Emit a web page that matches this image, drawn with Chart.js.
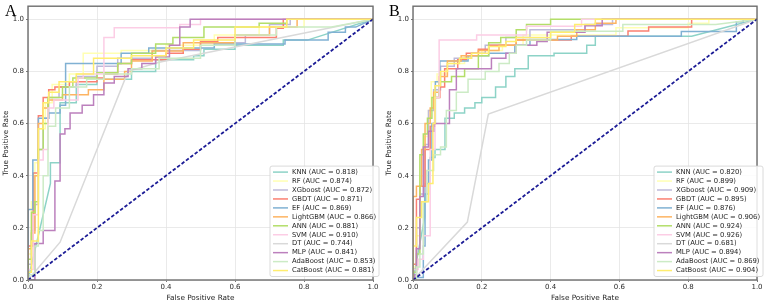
<!DOCTYPE html>
<html>
<head>
<meta charset="utf-8">
<script src="https://cdn.jsdelivr.net/npm/chart.js@4.4.1/dist/chart.umd.min.js"></script>
<style>
body { margin: 0; background: #fff; width: 767px; height: 303px; overflow: hidden; position: relative; }
.panel { position: absolute; top: 0; height: 303px; }
.tag { position: absolute; font-family: "Liberation Serif", "DejaVu Serif", serif; font-size: 16px; line-height: 16px; color: #000; }
</style>
</head>
<body>
<div class="panel" style="left:0;width:383px"><canvas id="chartA" width="383" height="303"></canvas></div>
<div class="panel" style="left:383px;width:384px"><canvas id="chartB" width="384" height="303"></canvas></div>
<div class="tag" style="left:5px;top:3px">A</div>
<div class="tag" style="left:389px;top:3px">B</div>
<script>
const models = ['KNN', 'RF', 'XGboost', 'GBDT', 'EF', 'LightGBM', 'ANN', 'SVM', 'DT', 'MLP', 'AdaBoost', 'CatBoost']
const colors = ['#8dd3c7', '#ffffb3', '#bebada', '#fb8072', '#80b1d3', '#fdb462', '#b3de69', '#fccde5', '#d9d9d9', '#bc80bd', '#ccebc5', '#ffed6f']
const aucA = ['0.818', '0.874', '0.872', '0.871', '0.869', '0.866', '0.881', '0.910', '0.744', '0.841', '0.853', '0.881']
const aucB = ['0.820', '0.899', '0.909', '0.895', '0.876', '0.906', '0.924', '0.926', '0.681', '0.894', '0.869', '0.904']
const axisTicks = [0, 0.2, 0.4, 0.6, 0.8, 1.0]

// ROC points [fpr, tpr]
const A_KNN = [[0,0],[0.065,0.37],[0.065,0.45],[0.093,0.45],[0.093,0.68],[0.14,0.68],[0.14,0.75],[0.2,0.75],[0.2,0.77],[0.3,0.77],[0.3,0.8],[0.37,0.8],[0.37,0.845],[0.48,0.845],[0.48,0.86],[0.51,0.86],[0.51,0.885],[0.6,0.885],[0.6,0.9],[0.74,0.9],[0.74,0.92],[0.81,0.92],[1,1]]
const A_RF = [[0,0],[0,0.1],[0.01,0.1],[0.01,0.3],[0.02,0.3],[0.02,0.45],[0.03,0.45],[0.03,0.58],[0.05,0.58],[0.05,0.68],[0.07,0.68],[0.07,0.75],[0.12,0.75],[0.12,0.79],[0.16,0.79],[0.16,0.87],[0.27,0.87],[0.27,0.88],[0.4,0.88],[0.4,0.9],[0.54,0.9],[0.54,0.94],[0.67,0.94],[0.67,0.97],[0.8,0.97],[0.8,1],[1,1]]
const A_XGB = [[0,0],[0,0.06],[0.01,0.06],[0.01,0.19],[0.02,0.19],[0.02,0.29],[0.03,0.29],[0.03,0.5],[0.044,0.5],[0.044,0.62],[0.06,0.62],[0.06,0.7],[0.09,0.7],[0.09,0.74],[0.14,0.74],[0.14,0.78],[0.2,0.78],[0.2,0.82],[0.26,0.82],[0.26,0.85],[0.36,0.85],[0.36,0.88],[0.5,0.88],[0.5,0.91],[0.63,0.91],[0.63,0.94],[0.7,0.94],[0.7,0.98],[0.76,0.98],[0.76,1],[1,1]]
const A_GBDT = [[0,0],[0,0.13],[0.015,0.13],[0.015,0.41],[0.03,0.41],[0.03,0.63],[0.044,0.63],[0.044,0.7],[0.06,0.7],[0.06,0.73],[0.078,0.73],[0.078,0.74],[0.12,0.74],[0.12,0.76],[0.2,0.76],[0.2,0.775],[0.22,0.775],[0.22,0.79],[0.26,0.79],[0.26,0.83],[0.3,0.83],[0.3,0.845],[0.4,0.845],[0.4,0.87],[0.45,0.87],[0.45,0.885],[0.5,0.885],[0.5,0.915],[0.55,0.915],[0.55,0.93],[0.72,0.93],[0.72,0.965],[0.74,0.965],[0.74,1],[1,1]]
const A_EF = [[0,0],[0,0.27],[0.014,0.27],[0.014,0.46],[0.03,0.46],[0.03,0.62],[0.06,0.62],[0.06,0.64],[0.093,0.64],[0.093,0.67],[0.109,0.67],[0.109,0.83],[0.27,0.83],[0.27,0.87],[0.35,0.87],[0.35,0.89],[0.54,0.89],[0.54,0.905],[0.745,0.905],[0.745,0.92],[0.87,0.92],[0.87,0.95],[0.92,0.95],[0.92,0.97],[0.95,0.97],[1,1]]
const A_LGBM = [[0,0],[0,0.12],[0.01,0.12],[0.01,0.18],[0.02,0.18],[0.02,0.4],[0.03,0.4],[0.03,0.6],[0.044,0.6],[0.044,0.66],[0.058,0.66],[0.058,0.69],[0.1,0.69],[0.1,0.71],[0.175,0.71],[0.175,0.73],[0.22,0.73],[0.22,0.77],[0.28,0.77],[0.28,0.8],[0.3,0.8],[0.3,0.84],[0.36,0.84],[0.36,0.878],[0.45,0.878],[0.45,0.91],[0.6,0.91],[0.6,0.94],[0.7,0.94],[0.7,0.97],[0.78,0.97],[0.78,1],[1,1]]
const A_ANN = [[0,0],[0,0.08],[0.01,0.08],[0.01,0.26],[0.02,0.26],[0.02,0.3],[0.03,0.3],[0.03,0.5],[0.044,0.5],[0.044,0.6],[0.058,0.6],[0.058,0.7],[0.1,0.7],[0.1,0.74],[0.13,0.74],[0.13,0.775],[0.2,0.775],[0.2,0.795],[0.26,0.795],[0.26,0.83],[0.3,0.83],[0.3,0.87],[0.37,0.87],[0.37,0.905],[0.42,0.905],[0.42,0.93],[0.51,0.93],[0.51,0.97],[0.67,0.97],[0.67,0.985],[0.75,0.985],[0.75,1],[1,1]]
const A_SVM = [[0,0],[0,0.04],[0.015,0.04],[0.015,0.25],[0.03,0.25],[0.03,0.46],[0.044,0.46],[0.044,0.5],[0.058,0.5],[0.058,0.66],[0.075,0.66],[0.075,0.69],[0.145,0.69],[0.145,0.775],[0.16,0.775],[0.16,0.79],[0.22,0.79],[0.22,0.93],[0.25,0.93],[0.25,0.967],[0.44,0.967],[0.44,0.98],[0.5,0.98],[0.5,1],[1,1]]
const A_DT = [[0,0],[0.093,0.145],[0.29,0.8],[0.38,0.835],[1,1]]
const A_MLP = [[0,0],[0.02,0],[0.02,0.14],[0.044,0.14],[0.044,0.19],[0.078,0.19],[0.078,0.38],[0.093,0.38],[0.093,0.56],[0.107,0.56],[0.107,0.58],[0.122,0.58],[0.122,0.64],[0.157,0.64],[0.157,0.67],[0.19,0.67],[0.19,0.71],[0.22,0.71],[0.22,0.755],[0.25,0.755],[0.25,0.78],[0.29,0.78],[0.29,0.81],[0.33,0.81],[0.33,0.83],[0.37,0.83],[0.37,0.855],[0.41,0.855],[0.41,0.9],[0.44,0.9],[0.44,0.97],[0.47,0.97],[0.47,1],[1,1]]
const A_Ada = [[0,0],[0,0.02],[0.02,0.02],[0.02,0.13],[0.03,0.13],[0.03,0.19],[0.044,0.19],[0.044,0.4],[0.058,0.4],[0.058,0.59],[0.08,0.59],[0.08,0.66],[0.12,0.66],[0.12,0.74],[0.17,0.74],[0.17,0.77],[0.22,0.77],[0.22,0.79],[0.3,0.79],[0.3,0.81],[0.38,0.81],[0.38,0.85],[0.5,0.85],[0.5,0.9],[0.6,0.9],[0.6,0.94],[0.72,0.94],[0.72,0.97],[0.88,0.97],[1,1]]
const A_Cat = [[0,0],[0,0.03],[0.01,0.03],[0.01,0.15],[0.03,0.15],[0.03,0.58],[0.044,0.58],[0.044,0.68],[0.06,0.68],[0.06,0.72],[0.09,0.72],[0.09,0.76],[0.14,0.76],[0.14,0.79],[0.19,0.79],[0.19,0.85],[0.3,0.85],[0.3,0.86],[0.4,0.86],[0.4,0.89],[0.48,0.89],[0.48,0.92],[0.6,0.92],[0.6,0.97],[0.75,0.97],[0.75,1],[1,1]]

// ROC points [fpr, tpr]
const B_KNN = [[0,0],[0.034,0.24],[0.034,0.37],[0.05,0.37],[0.05,0.47],[0.064,0.47],[0.064,0.5],[0.093,0.5],[0.093,0.62],[0.12,0.62],[0.12,0.64],[0.15,0.64],[0.15,0.66],[0.18,0.66],[0.18,0.68],[0.2,0.68],[0.2,0.7],[0.24,0.7],[0.24,0.74],[0.27,0.74],[0.27,0.78],[0.296,0.78],[0.296,0.81],[0.335,0.81],[0.335,0.86],[0.41,0.86],[0.41,0.87],[0.505,0.87],[0.505,0.9],[0.53,0.9],[0.53,0.935],[0.81,0.935],[1,1]]
const B_RF = [[0,0],[0,0.05],[0.01,0.05],[0.01,0.17],[0.02,0.17],[0.02,0.4],[0.035,0.4],[0.035,0.55],[0.045,0.55],[0.045,0.65],[0.053,0.65],[0.053,0.76],[0.07,0.76],[0.07,0.79],[0.1,0.79],[0.1,0.83],[0.15,0.83],[0.15,0.86],[0.2,0.86],[0.2,0.88],[0.26,0.88],[0.26,0.9],[0.32,0.9],[0.32,0.94],[0.59,0.94],[0.59,0.967],[0.8,0.967],[0.8,0.985],[0.86,0.985],[0.86,1],[1,1]]
const B_XGB = [[0,0],[0,0.04],[0.01,0.04],[0.01,0.2],[0.02,0.2],[0.02,0.33],[0.035,0.33],[0.035,0.52],[0.045,0.52],[0.045,0.65],[0.06,0.65],[0.06,0.73],[0.08,0.73],[0.08,0.82],[0.12,0.82],[0.12,0.85],[0.17,0.85],[0.17,0.87],[0.21,0.87],[0.21,0.9],[0.27,0.9],[0.27,0.93],[0.34,0.93],[0.34,0.96],[0.5,0.96],[0.5,0.98],[0.58,0.98],[0.58,1],[1,1]]
const B_GBDT = [[0,0],[0,0.06],[0.01,0.06],[0.01,0.31],[0.02,0.31],[0.02,0.36],[0.035,0.36],[0.035,0.5],[0.05,0.5],[0.05,0.59],[0.063,0.59],[0.063,0.7],[0.078,0.7],[0.078,0.74],[0.092,0.74],[0.092,0.81],[0.13,0.81],[0.13,0.845],[0.155,0.845],[0.155,0.87],[0.19,0.87],[0.19,0.885],[0.22,0.885],[0.22,0.9],[0.3,0.9],[0.3,0.92],[0.46,0.92],[0.46,0.935],[0.625,0.935],[0.625,0.955],[0.685,0.955],[0.685,0.97],[0.81,0.97],[0.81,1],[1,1]]
const B_EF = [[0,0],[0.005,0],[0.005,0.01],[0.03,0.01],[0.03,0.13],[0.035,0.13],[0.035,0.33],[0.045,0.33],[0.045,0.46],[0.055,0.46],[0.055,0.6],[0.065,0.6],[0.065,0.76],[0.078,0.76],[0.078,0.84],[0.16,0.84],[0.16,0.86],[0.22,0.86],[0.22,0.87],[0.296,0.87],[0.296,0.9],[0.34,0.9],[0.34,0.922],[0.476,0.922],[0.476,0.935],[0.78,0.935],[0.78,0.953],[0.94,0.953],[0.94,0.99],[0.96,0.99],[0.96,1],[1,1]]
const B_LGBM = [[0,0],[0,0.32],[0.01,0.32],[0.01,0.36],[0.025,0.36],[0.025,0.5],[0.035,0.5],[0.035,0.6],[0.05,0.6],[0.05,0.66],[0.06,0.66],[0.06,0.72],[0.076,0.72],[0.076,0.78],[0.1,0.78],[0.1,0.84],[0.14,0.84],[0.14,0.86],[0.19,0.86],[0.19,0.88],[0.25,0.88],[0.25,0.9],[0.3,0.9],[0.3,0.92],[0.42,0.92],[0.42,0.935],[0.476,0.935],[0.476,0.96],[0.53,0.96],[0.53,0.985],[0.59,0.985],[0.59,1],[1,1]]
const B_ANN = [[0,0],[0,0.03],[0.01,0.03],[0.01,0.1],[0.02,0.1],[0.02,0.48],[0.03,0.48],[0.03,0.56],[0.042,0.56],[0.042,0.62],[0.055,0.62],[0.055,0.7],[0.075,0.7],[0.075,0.76],[0.112,0.76],[0.112,0.78],[0.15,0.78],[0.15,0.81],[0.19,0.81],[0.19,0.86],[0.22,0.86],[0.22,0.91],[0.255,0.91],[0.255,0.93],[0.3,0.93],[0.3,0.96],[0.33,0.96],[0.33,0.98],[0.4,0.98],[0.4,1],[1,1]]
const B_SVM = [[0,0],[0,0.04],[0.015,0.04],[0.015,0.08],[0.03,0.08],[0.03,0.17],[0.05,0.17],[0.05,0.5],[0.064,0.5],[0.064,0.7],[0.076,0.7],[0.076,0.92],[0.185,0.92],[0.185,0.94],[0.33,0.94],[0.33,0.973],[0.49,0.973],[0.49,1],[1,1]]
const B_DT = [[0,0],[0.158,0.222],[0.219,0.636],[1,1]]
const B_MLP = [[0,0],[0.005,0],[0.005,0.02],[0.01,0.02],[0.01,0.12],[0.02,0.12],[0.02,0.32],[0.03,0.32],[0.03,0.51],[0.045,0.51],[0.045,0.57],[0.06,0.57],[0.06,0.6],[0.106,0.6],[0.106,0.73],[0.126,0.73],[0.126,0.81],[0.228,0.81],[0.228,0.85],[0.27,0.85],[0.27,0.87],[0.3,0.87],[0.3,0.9],[0.36,0.9],[0.36,0.915],[0.39,0.915],[0.39,0.95],[0.5,0.95],[0.5,0.975],[0.55,0.975],[0.55,1],[1,1]]
const B_Ada = [[0,0],[0.01,0],[0.01,0.05],[0.02,0.05],[0.02,0.1],[0.03,0.1],[0.03,0.3],[0.04,0.3],[0.04,0.42],[0.06,0.42],[0.06,0.48],[0.08,0.48],[0.08,0.51],[0.097,0.51],[0.097,0.65],[0.126,0.65],[0.126,0.72],[0.16,0.72],[0.16,0.77],[0.21,0.77],[0.21,0.8],[0.25,0.8],[0.25,0.83],[0.28,0.83],[0.28,0.87],[0.3,0.87],[0.3,0.9],[0.33,0.9],[0.33,0.92],[0.4,0.92],[0.4,0.954],[0.61,0.954],[0.61,0.98],[0.88,0.98],[1,1]]
const B_Cat = [[0,0],[0,0.13],[0.01,0.13],[0.01,0.24],[0.025,0.24],[0.025,0.3],[0.045,0.3],[0.045,0.37],[0.058,0.37],[0.058,0.6],[0.064,0.6],[0.064,0.745],[0.08,0.745],[0.08,0.8],[0.1,0.8],[0.1,0.83],[0.135,0.83],[0.135,0.85],[0.17,0.85],[0.17,0.87],[0.22,0.87],[0.22,0.895],[0.27,0.895],[0.27,0.915],[0.3,0.915],[0.3,0.93],[0.4,0.93],[0.4,0.95],[0.47,0.95],[0.47,0.98],[0.53,0.98],[0.53,1],[1,1]]

const rocA = [A_KNN, A_RF, A_XGB, A_GBDT, A_EF, A_LGBM, A_ANN, A_SVM, A_DT, A_MLP, A_Ada, A_Cat]
const rocB = [B_KNN, B_RF, B_XGB, B_GBDT, B_EF, B_LGBM, B_ANN, B_SVM, B_DT, B_MLP, B_Ada, B_Cat]
const chance = [[0,0],[1,1]]

const FONT = "'DejaVu Sans', 'Liberation Sans', sans-serif"

// frame round the axes plus a legend box in the lower right, like matplotlib
const framePlugin = {
    id: 'frame',
    afterDatasetsDraw(chart) {
        const a = chart.chartArea
        const ctx = chart.ctx
        ctx.save()
        ctx.strokeStyle = '#6e6e6e'
        ctx.lineWidth = 1.4
        ctx.strokeRect(a.left, a.top, a.right - a.left, a.bottom - a.top)
        ctx.restore()
    },
    afterDraw(chart) {
        const a = chart.chartArea
        const ctx = chart.ctx
        const sets = chart.data.datasets.filter(d => d.inLegend)
        const boxW = 109, rowH = 8.95
        const boxH = sets.length * rowH + 3
        const x0 = a.right + 6 - boxW
        const y0 = a.bottom - 3.5 - boxH
        ctx.save()
        ctx.fillStyle = 'rgba(255,255,255,0.85)'
        ctx.strokeStyle = '#d0d0d0'
        ctx.lineWidth = 0.8
        ctx.beginPath()
        ctx.roundRect(x0, y0, boxW, boxH, 2)
        ctx.fill()
        ctx.stroke()
        ctx.font = '6.8px ' + FONT
        ctx.textBaseline = 'middle'
        sets.forEach((d, i) => {
            const y = y0 + 6 + i * rowH
            ctx.strokeStyle = d.borderColor
            ctx.lineWidth = 1.5
            ctx.beginPath()
            ctx.moveTo(x0 + 3, y)
            ctx.lineTo(x0 + 18, y)
            ctx.stroke()
            ctx.fillStyle = '#1e1e1e'
            ctx.fillText(d.label, x0 + 22, y)
        })
        ctx.restore()
    }
}

function makeChart(canvasId, curves, aucs, yWidth) {
    const datasets = []
    for (var i = 0; i < models.length; i++) {
        datasets.push({
            label: models[i] + ' (AUC = ' + aucs[i] + ')',
            data: curves[i].map(p => ({x: p[0], y: p[1]})),
            borderColor: colors[i],
            borderWidth: 1.5,
            pointRadius: 0,
            order: models.length - i,
            inLegend: true
        })
    }
    datasets.push({
        label: 'chance',
        data: chance.map(p => ({x: p[0], y: p[1]})),
        borderColor: '#1c1c96',
        borderWidth: 1.8,
        borderDash: [3.5, 2],
        pointRadius: 0,
        order: 0,
        inLegend: false
    })

    const tickFont = {family: FONT, size: 7}
    const titleFont = {family: FONT, size: 7.3}
    new Chart(document.getElementById(canvasId), {
        type: 'line',
        data: {datasets: datasets},
        options: {
            responsive: false,
            animation: false,
            devicePixelRatio: 1,
            layout: {padding: {top: 5, right: 10, left: 0, bottom: 0}},
            plugins: {legend: {display: false}, tooltip: {enabled: false}},
            elements: {line: {tension: 0}},
            scales: {
                x: {
                    type: 'linear', min: 0, max: 1,
                    afterBuildTicks: s => { s.ticks = axisTicks.map(v => ({value: v})) },
                    ticks: {font: tickFont, color: '#2a2a2a', padding: 1, maxRotation: 0, callback: v => v.toFixed(1)},
                    grid: {color: '#e4e4e4', lineWidth: 0.8, tickLength: 2, tickColor: '#555'},
                    border: {display: false},
                    title: {display: true, text: 'False Positive Rate', font: titleFont, color: '#1e1e1e', padding: {top: 0, bottom: 1}},
                    afterFit: s => { s.height = 23 }
                },
                y: {
                    type: 'linear', min: 0, max: 1.05,
                    afterBuildTicks: s => { s.ticks = axisTicks.map(v => ({value: v})) },
                    ticks: {font: tickFont, color: '#2a2a2a', padding: 2, callback: v => v.toFixed(1)},
                    grid: {color: '#e4e4e4', lineWidth: 0.8, tickLength: 2, tickColor: '#555'},
                    border: {display: false},
                    title: {display: true, text: 'True Positive Rate', font: titleFont, color: '#1e1e1e', padding: {top: 2, bottom: 0}},
                    afterFit: s => { s.width = yWidth }
                }
            }
        },
        plugins: [framePlugin]
    })
}

makeChart('chartA', rocA, aucA, 28)
makeChart('chartB', rocB, aucB, 30)
</script>
</body>
</html>
